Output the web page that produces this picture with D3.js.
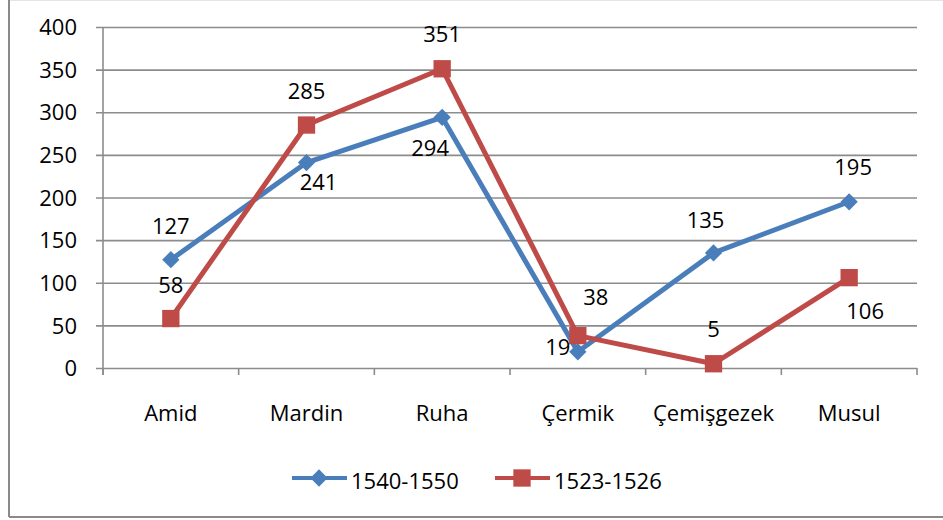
<!DOCTYPE html>
<html lang="tr">
<head>
    <meta charset="UTF-8">
    <title>1540-1550 / 1523-1526</title>
    <script src="https://d3js.org/d3.v7.min.js"></script>
    <style>
        body { margin: 0; background: #fff; }
        text { font-family: "Open Sans", sans-serif; fill: #000; }
    </style>
</head>
<body>
<div id="chart"></div>
<script>
    var categories = ["Amid", "Mardin", "Ruha", "Çermik", "Çemişgezek", "Musul"];
    var series1Name = "1540-1550";
    var series1 = [127, 241, 294, 19, 135, 195];
    var series2Name = "1523-1526";
    var series2 = [58, 285, 351, 38, 5, 106];
    var yTicks = [0, 50, 100, 150, 200, 250, 300, 350, 400];

    function drawChart() {
        var W = 943, H = 520;
        var plotLeft = 103, plotRight = 917, plotTop = 27, plotBottom = 368;
        var fontSize = "22px";

        var svg = d3.select("#chart").append("svg")
            .attr("width", W).attr("height", H);

        // outer frame (left + bottom, faint top)
        svg.append("line").attr("x1", 9).attr("x2", W).attr("y1", 0.5).attr("y2", 0.5)
            .attr("stroke", "#e4e4e4").attr("stroke-width", 1);
        svg.append("line").attr("x1", 9).attr("x2", 9).attr("y1", 0).attr("y2", 517)
            .attr("stroke", "#8a8a8a").attr("stroke-width", 2);
        svg.append("line").attr("x1", 9).attr("x2", W).attr("y1", 517).attr("y2", 517)
            .attr("stroke", "#8a8a8a").attr("stroke-width", 2);

        var x = d3.scaleBand().domain(categories).range([plotLeft, plotRight]).padding(0);
        var y = d3.scaleLinear().domain([0, 400]).range([plotBottom, plotTop]);
        var cx = d => x(d) + x.bandwidth() / 2;

        // y axis with gridlines
        var yAxis = svg.append("g")
            .attr("transform", "translate(" + plotLeft + ",0)")
            .call(d3.axisLeft(y).tickValues(yTicks).tickSize(0).tickPadding(0).tickFormat(""));
        yAxis.select(".domain").remove();
        yAxis.selectAll(".tick line")
            .attr("x1", -7).attr("x2", plotRight - plotLeft)
            .attr("stroke", "#8c8c8c").attr("stroke-width", 1.6);
        yAxis.selectAll(".tick").append("text")
            .attr("x", -26).attr("dy", "0.35em")
            .attr("text-anchor", "end")
            .style("font-size", fontSize)
            .text(d => d);

        svg.append("line")
            .attr("x1", plotLeft).attr("x2", plotLeft).attr("y1", plotTop).attr("y2", plotBottom + 7)
            .attr("stroke", "#8c8c8c").attr("stroke-width", 1.6);

        // x axis: ticks at category boundaries
        var bounds = categories.map(c => x(c)).concat([plotRight]);
        svg.append("g").selectAll("line").data(bounds).join("line")
            .attr("x1", d => d).attr("x2", d => d)
            .attr("y1", plotBottom).attr("y2", plotBottom + 7)
            .attr("stroke", "#8c8c8c").attr("stroke-width", 1.6);

        svg.append("g").selectAll("text").data(categories).join("text")
            .attr("x", d => cx(d)).attr("y", 413).attr("dy", "0.35em")
            .attr("text-anchor", "middle")
            .style("font-size", fontSize)
            .text(d => d);

        var blue = "#4a7ebb", red = "#be4b48";
        var line = d3.line().x((d, i) => cx(categories[i])).y(d => y(d));

        var diamond = d3.symbol().type(d3.symbolDiamond2).size(190);
        var square = d3.symbol().type(d3.symbolSquare).size(300);

        // series 1 (blue) first, red on top
        svg.append("path").datum(series1)
            .attr("fill", "none").attr("stroke", blue).attr("stroke-width", 5)
            .attr("stroke-linejoin", "round").attr("d", line);
        svg.append("g").selectAll("path").data(series1).join("path")
            .attr("transform", (d, i) => "translate(" + cx(categories[i]) + "," + y(d) + ")")
            .attr("d", diamond).attr("fill", blue);

        svg.append("path").datum(series2)
            .attr("fill", "none").attr("stroke", red).attr("stroke-width", 5)
            .attr("stroke-linejoin", "round").attr("d", line);
        svg.append("g").selectAll("path").data(series2).join("path")
            .attr("transform", (d, i) => "translate(" + cx(categories[i]) + "," + y(d) + ")")
            .attr("d", square).attr("fill", red);

        // data label placement (dx, dy from the marker)
        var off1 = [[0, -33], [12, 20], [-12, 31], [-20, -5], [-8, -33], [4, -34]];
        var off2 = [[0, -33], [0, -34], [0, -34], [18, -38], [0, -34], [16, 34]];

        svg.append("g").selectAll("text").data(series1).join("text")
            .attr("x", (d, i) => cx(categories[i]) + off1[i][0])
            .attr("y", (d, i) => y(d) + off1[i][1]).attr("dy", "0.35em")
            .attr("text-anchor", "middle").style("font-size", fontSize)
            .text(d => d);
        svg.append("g").selectAll("text").data(series2).join("text")
            .attr("x", (d, i) => cx(categories[i]) + off2[i][0])
            .attr("y", (d, i) => y(d) + off2[i][1]).attr("dy", "0.35em")
            .attr("text-anchor", "middle").style("font-size", fontSize)
            .text(d => d);

        // legend
        var legend = [
            { name: series1Name, color: blue, sym: diamond, x0: 292 },
            { name: series2Name, color: red, sym: square, x0: 495 }
        ];
        var lg = svg.append("g").selectAll("g").data(legend).join("g")
            .attr("transform", d => "translate(" + d.x0 + ",478)");
        lg.append("line").attr("x1", 0).attr("x2", 55).attr("y1", 0).attr("y2", 0)
            .attr("stroke", d => d.color).attr("stroke-width", 4);
        lg.append("path").attr("transform", "translate(27,0)")
            .attr("d", d => d.sym()).attr("fill", d => d.color);
        lg.append("text").attr("x", 59).attr("y", 3).attr("dy", "0.35em")
            .style("font-size", fontSize).text(d => d.name);
    }

    drawChart();
</script>
</body>
</html>
